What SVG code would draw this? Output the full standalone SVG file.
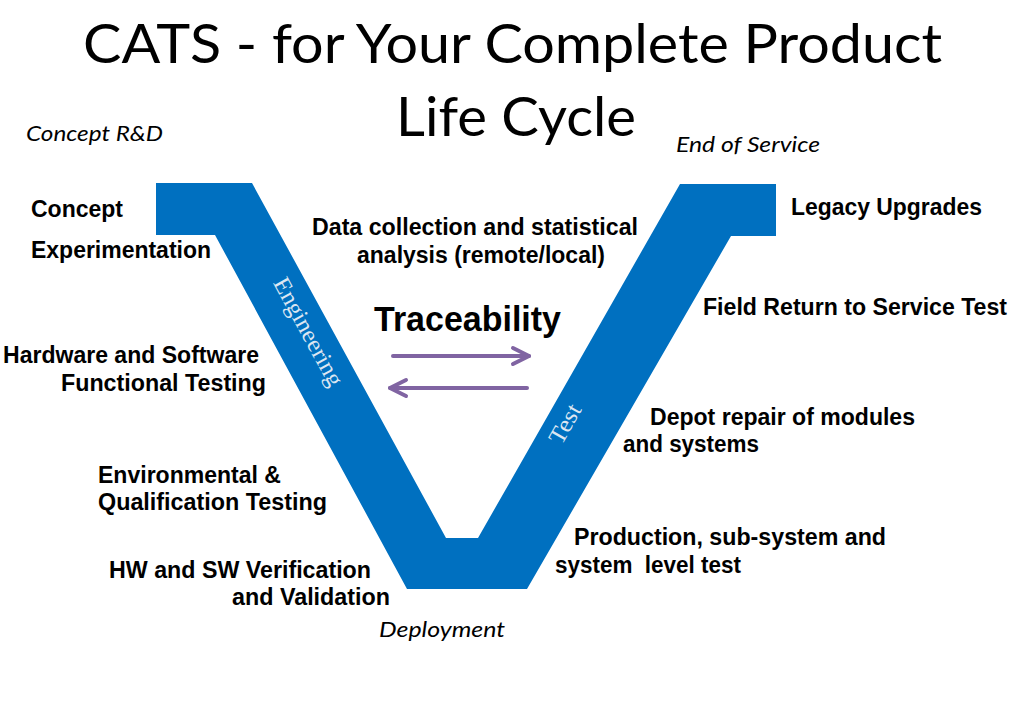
<svg xmlns="http://www.w3.org/2000/svg" width="1016" height="709" viewBox="0 0 1016 709">
<style>
.title{font-family:Lato,"Open Sans","Liberation Sans",sans-serif;font-size:54px;fill:#000}
.ital{font-family:Lato,"Open Sans","Liberation Sans",sans-serif;font-style:italic;font-size:21px;fill:#000}
.lbl{font-family:"Liberation Sans",Arial,sans-serif;font-weight:bold;font-size:23px;fill:#000}
.big{font-size:35px}
.arm{font-family:"Liberation Serif","Times New Roman",serif;font-size:24px;fill:#dce6f2}
.arrow{stroke:#8064a2;stroke-width:4;fill:none;stroke-linecap:round}
</style>
<defs>
<marker id="chev" markerUnits="userSpaceOnUse" markerWidth="20" markerHeight="20" viewBox="0 0 20 20" refX="17" refY="10" orient="auto" overflow="visible">
<path d="M1,2 L17,10 L1,18" fill="none" stroke="#8064a2" stroke-width="4" stroke-linecap="round" stroke-linejoin="round"/>
</marker>
</defs>
<rect width="1016" height="709" fill="#fff"/>
<g id="title">
<text class="title" x="83" y="63" textLength="859" lengthAdjust="spacingAndGlyphs">CATS - for Your Complete Product</text>
<text class="title" x="396" y="136" textLength="240" lengthAdjust="spacingAndGlyphs">Life Cycle</text>
</g>
<g id="v-shape">
<polygon points="156,183 252,183 446,538 478,538 680,184 776,184 776,236 731,236 527,589 407,589 215,235 156,235" fill="#0070c0"/>
<text class="arm" transform="translate(301.5,335.5) rotate(61.3)" text-anchor="middle" textLength="120" lengthAdjust="spacingAndGlyphs">Engineering</text>
<text class="arm" transform="translate(571.8,427.7) rotate(-60.4)" text-anchor="middle" textLength="42" lengthAdjust="spacingAndGlyphs">Test</text>
</g>
<g id="phases">
<text class="ital" x="26" y="141" textLength="137" lengthAdjust="spacingAndGlyphs">Concept R&amp;D</text>
<text class="ital" x="676" y="152" textLength="144" lengthAdjust="spacingAndGlyphs">End of Service</text>
<text class="ital" x="379" y="637" textLength="126" lengthAdjust="spacingAndGlyphs">Deployment</text>
</g>
<g id="node-concept"><text class="lbl" x="31" y="217" textLength="92" lengthAdjust="spacingAndGlyphs">Concept</text></g>
<g id="node-experimentation"><text class="lbl" x="31" y="258" textLength="180" lengthAdjust="spacingAndGlyphs">Experimentation</text></g>
<g id="node-hwsw-functional">
<text class="lbl" x="3" y="363" textLength="256" lengthAdjust="spacingAndGlyphs">Hardware and Software</text>
<text class="lbl" x="61" y="391" textLength="205" lengthAdjust="spacingAndGlyphs">Functional Testing</text>
</g>
<g id="node-environmental">
<text class="lbl" x="98" y="483" textLength="183" lengthAdjust="spacingAndGlyphs">Environmental &amp;</text>
<text class="lbl" x="98" y="510" textLength="229" lengthAdjust="spacingAndGlyphs">Qualification Testing</text>
</g>
<g id="node-verification">
<text class="lbl" x="109" y="578" textLength="262" lengthAdjust="spacingAndGlyphs">HW and SW Verification</text>
<text class="lbl" x="232" y="605" textLength="158" lengthAdjust="spacingAndGlyphs">and Validation</text>
</g>
<g id="node-data-collection">
<text class="lbl" x="312" y="235" textLength="326" lengthAdjust="spacingAndGlyphs">Data collection and statistical</text>
<text class="lbl" x="357" y="263" textLength="248" lengthAdjust="spacingAndGlyphs">analysis (remote/local)</text>
</g>
<g id="node-traceability"><text class="lbl big" x="374" y="331" textLength="187" lengthAdjust="spacingAndGlyphs">Traceability</text></g>
<g id="node-legacy"><text class="lbl" x="791" y="215" textLength="191" lengthAdjust="spacingAndGlyphs">Legacy Upgrades</text></g>
<g id="node-field-return"><text class="lbl" x="703" y="315" textLength="304" lengthAdjust="spacingAndGlyphs">Field Return to Service Test</text></g>
<g id="node-depot">
<text class="lbl" x="650" y="425" textLength="265" lengthAdjust="spacingAndGlyphs">Depot repair of modules</text>
<text class="lbl" x="623" y="452" textLength="136" lengthAdjust="spacingAndGlyphs">and systems</text>
</g>
<g id="node-production">
<text class="lbl" x="574" y="545" textLength="312" lengthAdjust="spacingAndGlyphs">Production, sub-system and</text>
<text class="lbl" x="555" y="573" textLength="186" lengthAdjust="spacingAndGlyphs" xml:space="preserve">system  level test</text>
</g>
<g id="connectors">
<path class="arrow" d="M393,356 L529,356" marker-end="url(#chev)"/>
<path class="arrow" d="M527,388 L390,388" marker-end="url(#chev)"/>
</g>
</svg>
